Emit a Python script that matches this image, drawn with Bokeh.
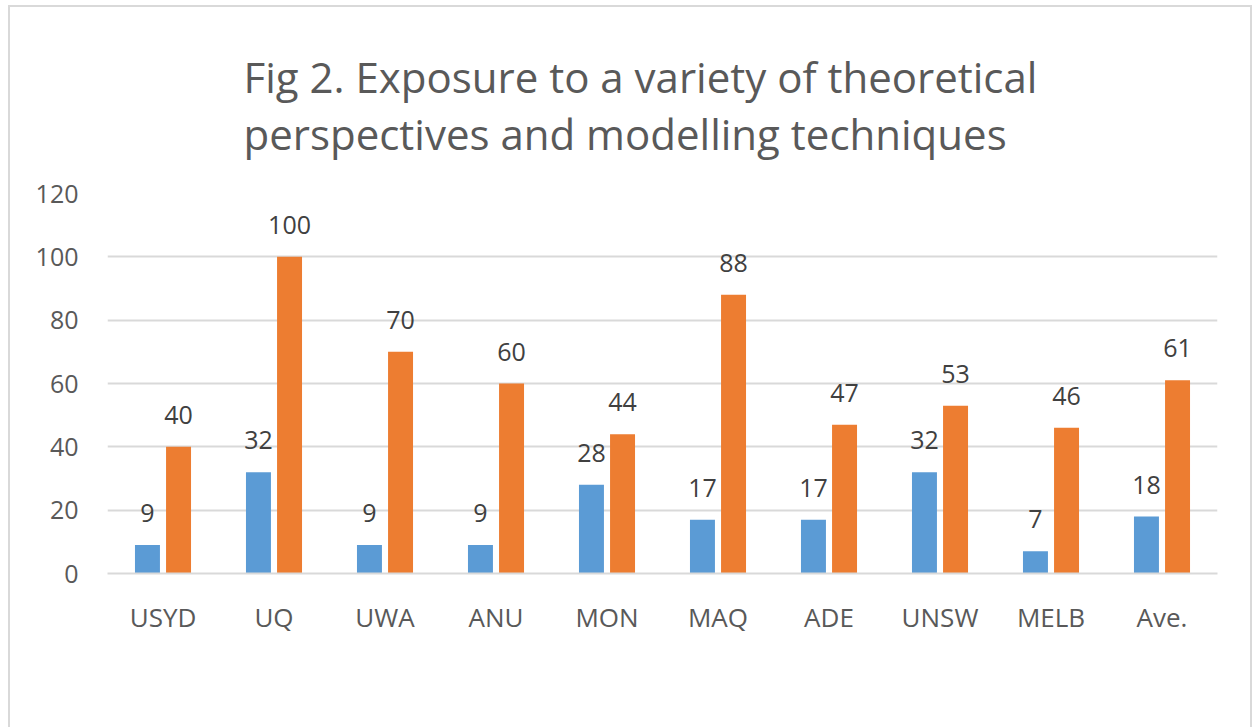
from bokeh.plotting import figure
from bokeh.models import ColumnDataSource, FactorRange, Range1d, Title, Legend, LegendItem, LabelSet, SingleIntervalTicker
from bokeh.core.properties import value
from bokeh.transform import dodge
from bokeh.embed import file_html
from bokeh.resources import INLINE

categories = ["USYD", "UQ", "UWA", "ANU", "MON", "MAQ", "ADE", "UNSW", "MELB", "Ave."]
theory = [9, 32, 9, 9, 28, 17, 17, 32, 7, 18]
modelling = [40, 100, 70, 60, 44, 88, 47, 53, 46, 61]
title_lines = ["Fig 2. Exposure to a variety of theoretical", "perspectives and modelling techniques"]

FONT = "Open Sans"
BLUE = "#5B9BD5"
ORANGE = "#ED7D31"
GRID = "#d9d9d9"
TXT = "#595959"

src = ColumnDataSource(dict(cat=categories, theory=theory, modelling=modelling,
                            tl=[str(v) for v in theory], ml=[str(v) for v in modelling]))

p = figure(x_range=FactorRange(*categories, range_padding=0), y_range=Range1d(0, 120),
           frame_width=1110, frame_height=380, output_backend="svg", toolbar_location=None,
           min_border_left=97, min_border_right=33, min_border_top=186, min_border_bottom=0,
           styles={"border": "2px solid #d9d9d9", "margin": "5px 0 0 8px"})
p.outline_line_color = None
p.background_fill_color = "white"
p.border_fill_color = "white"

r1 = p.vbar(x=dodge("cat", -0.14, range=p.x_range), top="theory", width=0.225, source=src,
            fill_color=BLUE, line_color=None)
r2 = p.vbar(x=dodge("cat", 0.14, range=p.x_range), top="modelling", width=0.225, source=src,
            fill_color=ORANGE, line_color=None)

for col, lab, off in (("theory", "tl", -0.14), ("modelling", "ml", 0.14)):
    ls = LabelSet(x=dodge("cat", off, range=p.x_range), y=col, text=lab, source=src,
                  text_align="center", text_baseline="bottom", y_offset=23,
                  text_font=value(FONT), text_font_size="25px", text_color="#404040")
    p.add_layout(ls)

p.xgrid.grid_line_color = None
p.ygrid.grid_line_color = GRID
p.ygrid.grid_line_width = 2
p.yaxis.ticker = SingleIntervalTicker(interval=20)
p.yaxis.axis_line_color = None
p.yaxis.major_tick_line_color = None
p.yaxis.minor_tick_line_color = None
p.yaxis.major_label_text_font = FONT
p.yaxis.major_label_text_font_size = "25px"
p.yaxis.major_label_text_color = TXT
p.yaxis.major_label_standoff = 23

p.xaxis.axis_line_color = GRID
p.xaxis.axis_line_width = 2
p.xaxis.major_tick_line_color = None
p.xaxis.minor_tick_line_color = None
p.xaxis.major_label_text_font = FONT
p.xaxis.major_label_text_font_size = "26px"
p.xaxis.major_label_text_color = TXT
p.xaxis.major_label_standoff = 19

title = Title(text="\n".join(title_lines), align="left", offset=136, text_font=FONT,
              text_font_size="42px", text_font_style="normal", text_color=TXT,
              text_line_height=1.0, standoff=64)
p.add_layout(title, "above")

legend = Legend(items=[LegendItem(label="Theory", renderers=[r1]),
                       LegendItem(label="Modelling", renderers=[r2])],
                orientation="horizontal", location="center",
                label_text_font=FONT, label_text_font_size="25px", label_text_color=TXT,
                glyph_width=17, glyph_height=17, spacing=30, label_standoff=8,
                border_line_color=None, background_fill_alpha=0, margin=20, padding=0)
p.add_layout(legend, "below")

open("out.html", "w").write(file_html(p, INLINE))
